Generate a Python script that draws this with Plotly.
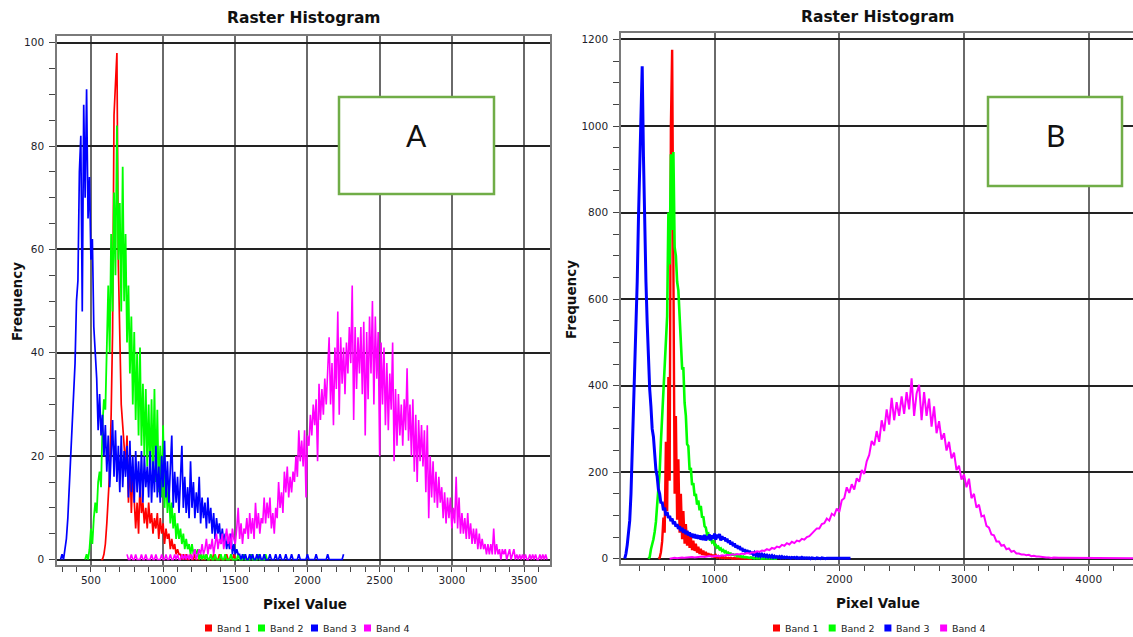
import plotly.graph_objects as go

W, H = 1133, 637

# ---------------- DATA ----------------
BAND_NAMES = ["Band 1", "Band 2", "Band 3", "Band 4"]
BAND_COLORS = ["#FF0000", "#00FF00", "#0000FF", "#FF00FF"]

# Panel A : bins every 10 pixel-values, first bin given by *_start
A_STEP = 10
a_band1_start = 570
a_band1 = [0, 0, 1, 3, 7, 13, 17, 28, 44, 86,
           93, 98, 57, 41, 30, 26, 22, 18, 24, 11,
           20, 9, 17, 12, 6, 11, 5, 15, 9, 11,
           7, 10, 6, 11, 7, 9, 5, 8, 6, 9,
           4, 8, 5, 7, 3, 6, 4, 5, 2, 4,
           2, 3, 1, 2, 1, 1, 0, 1, 0, 1,
           0, 0, 1, 0, 0, 1, 0, 0, 0, 1,
           0, 0, 0, 1, 0, 0, 0, 0, 1, 0,
           0, 0, 1, 0, 0, 0, 0, 1, 0, 0,
           0, 0, 1, 0]
a_band2_start = 460
a_band2 = [0, 1, 0, 2, 6, 3, 8, 11, 9, 15,
           17, 14, 26, 31, 29, 45, 53, 40, 63, 48,
           71, 55, 84, 58, 69, 48, 76, 50, 63, 42,
           53, 36, 47, 30, 44, 27, 40, 24, 41, 22,
           34, 20, 33, 18, 30, 17, 31, 16, 33, 15,
           29, 13, 22, 12, 26, 10, 17, 9, 14, 7,
           11, 6, 9, 4, 7, 4, 6, 3, 5, 2,
           4, 2, 3, 1, 3, 1, 2, 1, 2, 0,
           1, 0, 1, 0, 1,
           0, 0, 1, 0, 0, 1, 0, 0, 0, 1,
           0, 0, 1, 0, 0, 0, 1, 0, 0, 0,
           0, 1, 0, 0, 0, 1, 0, 0, 0, 0,
           1, 0, 0, 0, 0, 1, 0, 0, 0, 0,
           1, 0]
a_band3_start = 290
a_band3 = [0, 1, 0, 2, 4, 8, 13, 20, 26, 33,
           38, 50, 54, 75, 82, 48, 88, 70, 91, 66,
           74, 58, 62, 45, 41, 35, 25, 32, 24, 28,
           20, 26, 17, 24, 14, 22, 27, 16, 25, 15,
           22, 13, 24, 14, 21, 16, 22, 12, 23, 13,
           20, 11, 21, 13, 19, 12, 21, 11, 20, 14,
           18, 12, 21, 11, 19, 13, 22, 12, 18, 11,
           20, 14, 23, 12, 19, 11, 18, 24, 10, 17,
           11, 16, 9, 15, 22, 10, 16, 9, 14, 8,
           19, 10, 15, 8, 13, 9, 16, 7, 12, 8,
           11, 6, 12, 7, 10, 5, 9, 4, 8, 5,
           7, 3, 6, 3, 5, 2, 4, 2, 5, 1,
           3, 1, 2, 1, 1, 0, 1,
           0, 1, 0, 0, 1, 0, 1, 0, 0, 1,
           0, 1, 0, 0, 1, 0, 0, 0, 1, 0,
           0, 0, 1, 0, 0, 1, 0, 0, 0, 1,
           0, 0, 0, 1, 0, 0, 0, 0, 1, 0,
           0, 0, 0, 0, 1, 0, 0, 0, 0, 0,
           1, 0, 0, 0, 0, 0, 0, 0, 1, 0,
           0, 0, 0, 0, 0, 0, 0, 0, 0, 1]
a_band4_start = 750
a_band4 = [1, 0, 0, 1, 0, 0, 1, 0, 0, 0,
           1, 0, 0, 1, 0, 0, 0, 1, 0, 0,
           1, 0, 0, 0, 1, 0, 0, 1, 0, 0,
           1, 0, 0, 1, 0, 1, 0, 0, 1, 0,
           1, 0, 1, 0, 1, 0, 1, 2, 0, 1,
           2, 1, 3, 1, 2, 4, 1, 3, 2, 4,
           1, 3, 5, 2, 4, 3, 5, 2, 4, 6,
           3, 5, 2, 6, 4, 3, 6, 10, 4, 7,
           3, 6, 5, 8, 4, 9, 5, 8, 4, 11,
           6, 9, 5, 8, 7, 12, 7, 11, 8, 12,
           6, 9, 5, 10, 8, 15, 10, 13, 9, 17,
           13, 18, 12, 16, 13, 17, 15, 20, 16, 25,
           19, 23, 18, 25, 12, 24, 22, 28, 24, 30,
           26, 31, 19, 34, 27, 33, 28, 35, 30, 36,
           43, 30, 38, 26, 41, 33, 48, 28, 43, 34,
           41, 32, 42, 36, 45, 38, 53, 27, 45, 33,
           43, 36, 45, 32, 46, 24, 44, 31, 47, 36,
           50, 30, 47, 35, 44, 20, 42, 30, 41, 26,
           38, 25, 36, 29, 42, 19, 33, 22, 32, 24,
           30, 22, 31, 25, 37, 23, 30, 20, 31, 17,
           28, 15, 27, 19, 26, 18, 25, 13, 26, 8,
           20, 12, 19, 11, 17, 10, 16, 11, 14, 8,
           13, 7, 12, 8, 12, 6, 10, 7, 16, 6,
           12, 5, 9, 5, 8, 4, 9, 4, 7, 3,
           6, 3, 6, 2, 5, 2, 4, 2, 3, 1,
           3, 1, 3, 1, 6, 1, 3, 1, 2, 0,
           2, 1, 2, 0, 1, 2, 0, 1, 2, 0,
           1, 0, 1, 0, 1, 0, 1, 0, 0, 1,
           0, 1, 0, 1, 0, 0, 1, 0, 1, 0,
           1, 0]

# Panel B : bins every 10 (bands 1-3) and 20 (band 4)
B_STEP = 10
B_STEP4 = 20
b_band1_start = 550
b_band1 = [0, 2, 15, 40, 95, 60, 270, 110, 420, 180,
           1000, 1176, 680, 150, 330, 90, 230, 60, 150, 45,
           110, 35, 80, 30, 62, 25, 50, 20, 42, 18,
           35, 14, 28, 11, 23, 9, 19, 8, 16, 6,
           13, 5, 11, 4, 9, 3, 8, 3, 6, 2,
           5, 2, 4, 1, 3, 1, 2, 1, 2, 0,
           1, 1, 0, 1, 0, 1, 0, 0, 1, 0,
           0, 1, 0, 0, 0, 0]
b_band2_start = 470
b_band2 = [0, 4, 22, 32, 45, 62, 85, 125, 160, 200,
           270, 330, 410, 460, 520, 560, 800, 680, 935, 760,
           940, 720, 700, 640, 620, 560, 530, 440, 440, 360,
           330, 265, 260, 205, 210, 170, 175, 145, 150, 125,
           135, 112, 122, 95, 98, 75, 72, 56, 58, 46,
           48, 38, 40, 32, 32, 26, 28, 22, 24, 18,
           20, 15, 17, 12, 14, 11, 12, 9, 10, 8,
           9, 6, 7, 5, 6, 4, 5, 3, 4, 3,
           3, 2, 3, 2, 2, 1, 2, 1, 2, 1,
           1, 0, 1, 1, 0, 1, 0, 1, 0, 0,
           1, 0, 0, 0]
b_band3_start = 280
b_band3 = [0, 12, 32, 58, 88, 150, 238, 330, 418, 520,
           640, 785, 905, 1075, 1138, 930, 725, 640, 545, 455,
           392, 352, 300, 282, 238, 205, 190, 160, 150, 128,
           132, 112, 118, 100, 108, 94, 99, 87, 93, 80,
           86, 74, 80, 69, 75, 64, 71, 60, 67, 57,
           64, 54, 61, 51, 58, 48, 57, 47, 55, 46,
           54, 44, 53, 43, 55, 42, 52, 45, 56, 43,
           54, 47, 58, 44, 56, 48, 57, 42, 52, 45,
           49, 40, 46, 37, 42, 33, 39, 29, 35, 26,
           31, 23, 29, 20, 25, 17, 22, 15, 20, 13,
           18, 11, 16, 10, 14, 8, 12, 7, 11, 6,
           10, 6, 9, 5, 8, 4, 7, 4, 7, 3,
           6, 3, 5, 3, 5, 2, 5, 2, 4, 2,
           4, 2, 3, 1, 3, 2, 3, 1, 3, 1,
           2, 1, 3, 1, 2, 1, 2, 1, 2, 0,
           2, 1, 1, 0, 2, 1, 1, 0, 2, 1,
           1, 0, 1, 1, 0, 1, 0, 1, 1, 0,
           1, 0, 1, 0, 1, 1, 0, 1, 0, 1,
           0, 1]
b_band4_start = 640
b_band4 = [0, 1, 2, 1, 2, 3, 2, 3, 3, 4,
           3, 4, 4, 5, 4, 5, 6, 5, 6, 7,
           6, 8, 7, 9, 8, 10, 9, 11, 10, 12,
           11, 13, 12, 15, 14, 17, 16, 19, 18, 22,
           20, 25, 23, 28, 26, 32, 30, 36, 33, 39,
           36, 42, 40, 46, 44, 50, 52, 58, 62, 70,
           70, 80, 82, 93, 88, 104, 100, 116, 108, 135,
           140, 165, 152, 172, 160, 186, 178, 205, 196, 225,
           240, 272, 262, 295, 270, 320, 295, 345, 310, 372,
           320, 362, 330, 375, 335, 385, 345, 417, 330, 382,
           402, 320, 385, 330, 370, 305, 352, 290, 318, 275,
           290, 250, 270, 232, 245, 205, 215, 183, 195, 165,
           185, 140, 150, 118, 125, 98, 100, 76, 72, 56,
           54, 40, 40, 30, 32, 22, 24, 16, 18, 12,
           12, 10, 10, 8, 9, 6, 7, 5, 5, 4,
           4, 3, 3, 2, 3, 2, 2, 2, 2, 1,
           2, 1, 2, 1, 1, 2, 1, 1, 2, 1,
           1, 1, 2, 1, 1, 1, 2, 1, 1, 1,
           1, 2, 1, 1, 1, 2, 1]

# axis ticks
A_XTICKS = [500, 1000, 1500, 2000, 2500, 3000, 3500]
A_YTICKS = [0, 20, 40, 60, 80, 100]
B_XTICKS = [1000, 2000, 3000, 4000]
B_YTICKS = [0, 200, 400, 600, 800, 1000, 1200]
PANEL_TITLE = "Raster Histogram"
X_TITLE = "Pixel Value"
Y_TITLE = "Frequency"
PANEL_LABELS = ["A", "B"]


def bins(start, step, values):
    return [start + step * i for i in range(len(values))]


def fx(px):
    return px / W


def fy(py):
    return 1 - py / H


fig = go.Figure()

panel_a = [(a_band1_start, A_STEP, a_band1), (a_band2_start, A_STEP, a_band2),
           (a_band3_start, A_STEP, a_band3), (a_band4_start, A_STEP, a_band4)]
panel_b = [(b_band1_start, B_STEP, b_band1), (b_band2_start, B_STEP, b_band2),
           (b_band3_start, B_STEP, b_band3), (b_band4_start, B_STEP4, b_band4)]
A_WIDTHS = [1.7, 1.8, 1.7, 1.6]
B_WIDTHS = [2.4, 2.6, 3.0, 2.0]

for (start, step, vals), name, col, lw in zip(panel_a, BAND_NAMES, BAND_COLORS, A_WIDTHS):
    fig.add_trace(go.Scatter(x=bins(start, step, vals), y=vals, mode="lines",
                             name=name, line=dict(color=col, width=lw),
                             xaxis="x", yaxis="y", showlegend=False,
                             hoverinfo="skip"))
for (start, step, vals), name, col, lw in zip(panel_b, BAND_NAMES, BAND_COLORS, B_WIDTHS):
    fig.add_trace(go.Scatter(x=bins(start, step, vals), y=vals, mode="lines",
                             name=name, line=dict(color=col, width=lw),
                             xaxis="x2", yaxis="y2", showlegend=False,
                             hoverinfo="skip"))

TICKFONT = dict(family="DejaVu Sans", size=10.5, color="#1e1e2a")
XGRID = "#6a6a6a"
YGRID = "#222222"
FRAME = "#7a7a7a"
TICKC = "#444444"

common_x = dict(showgrid=True, gridcolor=XGRID, gridwidth=2, zeroline=False,
                ticks="outside", ticklen=5, tickcolor=TICKC, tickwidth=1,
                showline=True, linecolor=FRAME, linewidth=1.5,
                tickfont=TICKFONT, fixedrange=True)
common_y = dict(showgrid=True, gridcolor=YGRID, gridwidth=1.5,
                zeroline=True, zerolinecolor=YGRID, zerolinewidth=1.5,
                ticks="outside", ticklen=6, tickcolor=TICKC, tickwidth=1,
                showline=True, linecolor=FRAME, linewidth=1.5,
                tickfont=TICKFONT, fixedrange=True, ticklabelstandoff=3)

fig.update_layout(
    width=W, height=H, margin=dict(l=0, r=0, t=0, b=0),
    paper_bgcolor="white", plot_bgcolor="white", showlegend=False,
    xaxis=dict(domain=[fx(57), fx(550)], range=[265, 3680], anchor="y",
               tickvals=A_XTICKS, mirror=True,
               minor=dict(dtick=100, tick0=0, ticks="outside", ticklen=5,
                          tickcolor=TICKC, showgrid=False),
               **common_x),
    yaxis=dict(domain=[fy(565), fy(36)], range=[-1.06, 101.3], anchor="x",
               tickvals=A_YTICKS, mirror=True,
               minor=dict(dtick=5, tick0=0, ticks="outside", ticklen=6,
                          tickcolor=TICKC, showgrid=False),
               **common_y),
    xaxis2=dict(domain=[fx(621), 1.0], range=[250, 4355], anchor="y2",
                tickvals=B_XTICKS, mirror=True,
                minor=dict(dtick=200, tick0=0, ticks="outside", ticklen=5,
                           tickcolor=TICKC, showgrid=False),
                **common_x),
    yaxis2=dict(domain=[fy(564), fy(33)], range=[-12.2, 1215], anchor="x2",
                tickvals=B_YTICKS, mirror=False,
                minor=dict(dtick=50, tick0=0, ticks="outside", ticklen=6,
                           tickcolor=TICKC, showgrid=False),
                **common_y),
)

TITLE_FONT = dict(family="DejaVu Sans", size=15.5, color="#111111")
AXT_FONT = dict(family="DejaVu Sans", size=13.5, color="#111111")
ann = []
shapes = []
for cx, cy_title in [(304, 18), (878, 17)]:
    ann.append(dict(x=fx(cx), y=fy(cy_title), xref="paper", yref="paper",
                    text="<b>%s</b>" % PANEL_TITLE, showarrow=False,
                    font=TITLE_FONT, xanchor="center", yanchor="middle"))
for cx, cy in [(305, 604), (878, 603)]:
    ann.append(dict(x=fx(cx), y=fy(cy), xref="paper", yref="paper",
                    text="<b>%s</b>" % X_TITLE, showarrow=False,
                    font=AXT_FONT, xanchor="center", yanchor="middle"))
for cx, cy in [(17, 302), (571, 300)]:
    ann.append(dict(x=fx(cx), y=fy(cy), xref="paper", yref="paper",
                    text="<b>%s</b>" % Y_TITLE, showarrow=False, textangle=-90,
                    font=AXT_FONT, xanchor="center", yanchor="middle"))

# legends (colour square + label) under each panel
LEG_FONT = dict(family="DejaVu Sans", size=9.5, color="#222222")
for x0, gap in [(205, 53), (773, 55.7)]:
    for i, (name, col) in enumerate(zip(BAND_NAMES, BAND_COLORS)):
        sx = x0 + i * gap
        shapes.append(dict(type="rect", xref="paper", yref="paper",
                           x0=fx(sx), x1=fx(sx + 7), y0=fy(631.5), y1=fy(624.5),
                           fillcolor=col, line=dict(width=0)))
        ann.append(dict(x=fx(sx + 10), y=fy(628), xref="paper", yref="paper",
                        text=name, showarrow=False, font=LEG_FONT,
                        xanchor="left", yanchor="middle"))

# green labelled boxes
for (x0, y0, x1, y1), lab in zip([(339, 97, 494, 194), (988, 97, 1122, 186)],
                                 PANEL_LABELS):
    shapes.append(dict(type="rect", xref="paper", yref="paper",
                       x0=fx(x0), x1=fx(x1), y0=fy(y1), y1=fy(y0),
                       fillcolor="white", line=dict(color="#70AD47", width=2.5),
                       layer="above"))
    ann.append(dict(x=fx((x0 + x1) / 2), y=fy(y0 + 38), xref="paper",
                    yref="paper", text=lab, showarrow=False,
                    font=dict(family="Lato", size=30, color="#111111"),
                    xanchor="center", yanchor="middle"))

fig.update_layout(annotations=ann, shapes=shapes)
fig.write_html("out.html", config={"displayModeBar": False},
               post_script="document.body.style.margin='0px';"
                           "document.body.style.overflow='hidden';")
